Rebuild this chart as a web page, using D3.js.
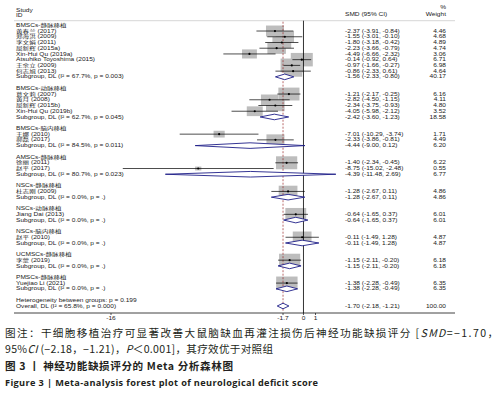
<!DOCTYPE html>
<html><head><meta charset="utf-8">
<script src="https://cdn.jsdelivr.net/npm/d3@7"></script>
<style>
html,body{margin:0;padding:0;background:#fff;}
svg{display:block;}
</style></head>
<body>
<script>
// ---------- DATA ----------
const groupNames = ["BMSCs-静脉移植","BMSCs-动脉移植","BMSCs-脑内移植","AMSCs-静脉移植","NSCs-静脉移植","NSCs-动脉移植","NSCs-脑内移植","UCMSCs-静脉移植","PMSCs-静脉移植"];
const studyNames = ["黄春兰 (2017)","郑海洪 (2009)","李文娟 (2011)","屈新辉 (2015a)","Xin-Hui Qu (2019a)","Atsuhiko Toyoshima (2015)","王余立 (2009)","何志旭 (2013)",
  "葛文莉 (2007)","黄月 (2008)","屈新辉 (2015b)","Xin-Hui Qu (2019b)",
  "王娜 (2010)","郝磊 (2017)",
  "徐丽 (2011)","赵平 (2017)",
  "杜志刚 (2009)","Jiang Dai (2013)","赵平 (2010)","李蒙 (2019)","Yuejiao Li (2021)"];
const studyGroup = [0,0,0,0,0,0,0,0, 1,1,1,1, 2,2, 3,3, 4,5,6,7,8];
const studySMD = [-2.37,-1.55,-1.80,-2.23,-4.49,-0.14,-0.97,-0.86, -1.21,-2.82,-2.34,-4.05, -7.01,-2.33, -1.40,-8.75, -1.28,-0.64,-0.11,-1.15,-1.38];
const studyLo  = [-3.91,-3.01,-3.18,-3.66,-6.66,-0.92,-1.66,-2.33, -2.17,-4.50,-3.75,-5.98, -10.29,-3.86, -2.34,-15.02, -2.67,-1.65,-1.49,-2.11,-2.28];
const studyHi  = [-0.84,-0.10,-0.42,-0.79,-2.32,0.64,-0.27,0.61, -0.25,-1.15,-0.93,-2.12, -3.74,-0.81, -0.45,-2.48, 0.11,0.37,1.28,-0.20,-0.49];
const studyWeight = [4.46,4.68,4.89,4.74,3.06,6.71,6.98,4.64, 6.16,4.11,4.80,3.52, 1.71,4.49, 6.22,0.55, 4.86,6.01,4.87,6.18,6.35];
const subHet = ["67.7%, p = 0.003","62.7%, p = 0.045","84.5%, p = 0.011","80.7%, p = 0.023","0.0%, p = .","0.0%, p = .","0.0%, p = .","0.0%, p = .","0.0%, p = ."];
const subSMD = [-1.56,-2.42,-4.44,-4.39,-1.28,-0.64,-0.11,-1.15,-1.38];
const subLo  = [-2.33,-3.60,-9.00,-11.48,-2.67,-1.65,-1.49,-2.11,-2.28];
const subHi  = [-0.80,-1.23,0.12,2.69,0.11,0.37,1.28,-0.20,-0.49];
const subWeight = [40.17,18.58,6.20,6.77,4.86,6.01,4.87,6.18,6.35];
const betweenP = "0.199";
const overallHet = "65.8%, p = 0.000";
const overallVals = [-1.70,-2.18,-1.21,100.00];
const xTicks = [-16,-1.7,0,1];
const xTickLabels = ["-16","-1.7","0","1"];

// ---------- LAYOUT ----------
const W = 501, H = 395;
const svg = d3.select("body").append("svg").attr("width",W).attr("height",H);
svg.append("rect").attr("width",W).attr("height",H).attr("fill","#fff");

// build row list
const rows = [];
groupNames.forEach((g,gi)=>{
  rows.push({type:"header", label:g});
  studyNames.forEach((s,si)=>{ if(studyGroup[si]===gi) rows.push({type:"study", label:s, est:studySMD[si], lo:studyLo[si], hi:studyHi[si], w:studyWeight[si]}); });
  rows.push({type:"sub", label:"Subgroup, DL (I² = "+subHet[gi]+")", est:subSMD[gi], lo:subLo[gi], hi:subHi[gi], w:subWeight[gi]});
  rows.push({type:"blank"});
});
rows.push({type:"het", label:"Heterogeneity between groups: p = "+betweenP});
rows.push({type:"overall", label:"Overall, DL (I² = "+overallHet+")", est:overallVals[0], lo:overallVals[1], hi:overallVals[2], w:overallVals[3]});
rows.forEach((r,i)=>r.i=i);

const y = d3.scaleLinear().domain([0, rows.length-1]).range([25.3, 306]);
const x = d3.scaleLinear().domain([-16, 1]).range([111, 315.5]);

const FS = 4.7, SX = 1.4, TXT = "#222";
const fam = "'Liberation Sans', Arial, 'Noto Sans CJK SC', sans-serif";
function txt(xp, yp, s, anchor){
  return svg.append("text")
    .attr("transform", `translate(${xp},${yp}) scale(${SX},1)`)
    .attr("font-family", fam).attr("font-size", FS).attr("fill", TXT)
    .attr("text-anchor", anchor||"start").text(s);
}
const fmt = v => v.toFixed(2);

const topLine = 20.7, axisY = 313;
const LX = 16, CX = 345, WX = 446;

// header texts
txt(LX, 12.3, "Study");
txt(LX, 16.6, "ID");
txt(CX, 15.5, "SMD (95% CI)");
txt(WX, 8.8, "%", "end");
txt(WX, 15.5, "Weight", "end");

// horizontal rules
svg.append("line").attr("x1",14).attr("x2",455).attr("y1",topLine).attr("y2",topLine).attr("stroke","#bbb").attr("stroke-width",0.6);
svg.append("line").attr("x1",14).attr("x2",455).attr("y1",axisY).attr("y2",axisY).attr("stroke","#111").attr("stroke-width",0.8);

// boxes
const studies = rows.filter(r=>r.type==="study");
svg.append("g").selectAll("rect").data(studies).join("rect")
  .attr("x", d=>x(d.est)-4.25*Math.sqrt(d.w))
  .attr("y", d=>y(d.i)-2.6*Math.sqrt(d.w))
  .attr("width", d=>8.5*Math.sqrt(d.w))
  .attr("height", d=>5.2*Math.sqrt(d.w))
  .attr("fill","#bdbdbd");

// null line
svg.append("line").attr("x1",x(0)).attr("x2",x(0)).attr("y1",topLine).attr("y2",axisY).attr("stroke","#000").attr("stroke-width",0.8);
// overall dashed
svg.append("line").attr("x1",x(overallVals[0])).attr("x2",x(overallVals[0])).attr("y1",topLine+1).attr("y2",axisY-1)
  .attr("stroke","#9c2a2a").attr("stroke-width",0.7).attr("stroke-dasharray","2,1.5");

// CI lines & points
svg.append("g").selectAll("line").data(studies).join("line")
  .attr("x1", d=>x(d.lo)).attr("x2", d=>x(d.hi)).attr("y1", d=>y(d.i)).attr("y2", d=>y(d.i))
  .attr("stroke","#000").attr("stroke-width",0.7);
svg.append("g").selectAll("circle").data(studies).join("circle")
  .attr("cx", d=>x(d.est)).attr("cy", d=>y(d.i)).attr("r",1.1).attr("fill","#000");

// diamonds
const pooled = rows.filter(r=>r.type==="sub"||r.type==="overall");
const dh = 2.8;
svg.append("g").selectAll("path").data(pooled).join("path")
  .attr("d", d=>{const yy=y(d.i); return `M${x(d.lo)},${yy}L${x(d.est)},${yy-dh}L${x(d.hi)},${yy}L${x(d.est)},${yy+dh}Z`;})
  .attr("fill","#fff").attr("stroke","#1e1e88").attr("stroke-width",0.9);

// row labels
rows.forEach(r=>{
  if(r.type==="blank") return;
  const yy = y(r.i)+1.6;
  txt(LX, yy, r.label);
  if(r.est!==undefined){
    txt(CX, yy, `${fmt(r.est)} (${fmt(r.lo)}, ${fmt(r.hi)})`);
    txt(WX, yy, fmt(r.w), "end");
  }
});

// x ticks
xTicks.forEach((t,i)=>{
  svg.append("line").attr("x1",x(t)).attr("x2",x(t)).attr("y1",axisY).attr("y2",axisY+2).attr("stroke","#111").attr("stroke-width",0.7);
  txt(x(t), axisY+7, xTickLabels[i], "middle");
});

// ---------- CAPTION ----------
const cfam = "'Noto Sans CJK SC', 'Noto Sans', sans-serif";
const c1 = svg.append("text").attr("x",5).attr("y",336.5).attr("font-family",cfam).attr("font-size",10.6).attr("fill","#231f20")
  .attr("textLength",493).attr("lengthAdjust","spacing");
c1.append("tspan").text("图注：干细胞移植治疗可显著改善大鼠脑缺血再灌注损伤后神经功能缺损评分 [");
c1.append("tspan").attr("font-style","italic").text("SMD");
c1.append("tspan").text("=−1.70，");

const c2 = svg.append("text").attr("x",5).attr("y",353).attr("font-family",cfam).attr("font-size",10.6).attr("fill","#231f20")
  .attr("textLength",268).attr("lengthAdjust","spacing");
c2.append("tspan").text("95%");
c2.append("tspan").attr("font-style","italic").text("CI");
c2.append("tspan").text(" (−2.18，−1.21)，");
c2.append("tspan").attr("font-style","italic").text("P");
c2.append("tspan").text("＜0.001]，其疗效优于对照组");

svg.append("text").attr("x",5).attr("y",370).attr("font-family",cfam).attr("font-size",10.6).attr("font-weight","bold").attr("fill","#231f20")
  .attr("textLength",228).attr("lengthAdjust","spacing")
  .text("图 3 丨 神经功能缺损评分的 Meta 分析森林图");

svg.append("text").attr("x",5).attr("y",386).attr("font-family","'Open Sans','Noto Sans',sans-serif").attr("font-size",9.2).attr("font-weight","bold").attr("fill","#231f20")
  .attr("textLength",313).attr("lengthAdjust","spacing")
  .text("Figure 3 | Meta-analysis forest plot of neurological deficit score");
</script>
</body></html>
